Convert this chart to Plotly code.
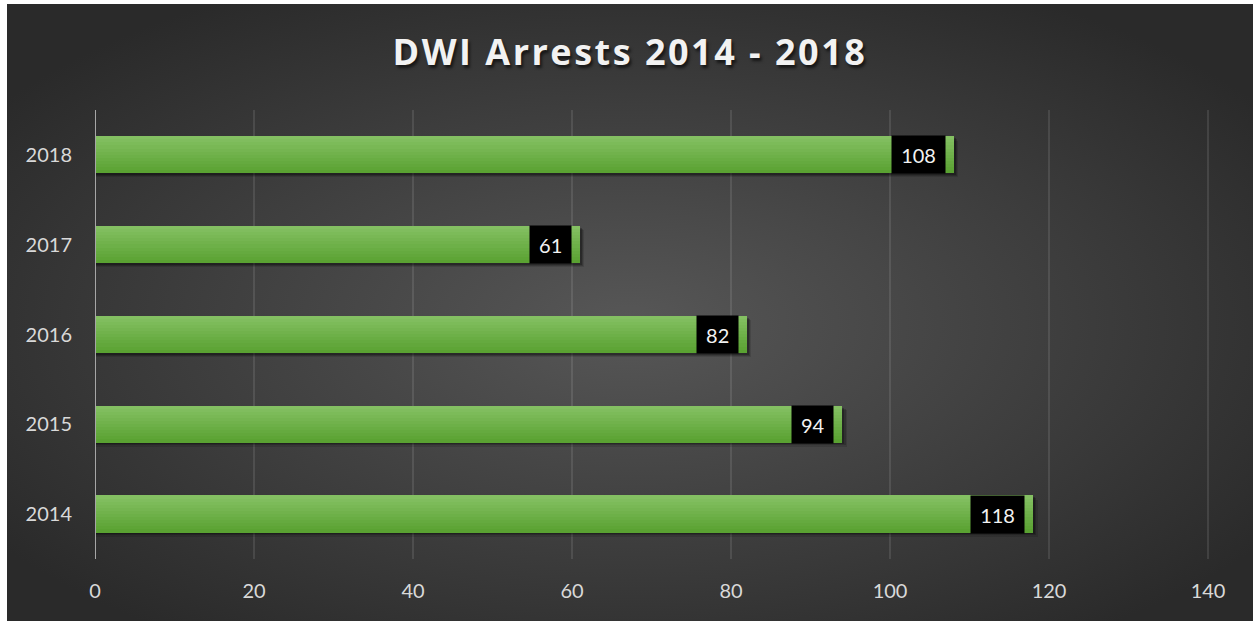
import plotly.graph_objects as go
import base64

years = ["2014", "2015", "2016", "2017", "2018"]
arrests = [118, 94, 82, 61, 108]
x_ticks = [0, 20, 40, 60, 80, 100, 120, 140]
x_range = [0, 141]

W, H = 1253, 621
ML, MR, MT, MB = 95, 37, 110, 62
PW, PH = W - ML - MR, H - MT - MB

ypos = list(range(len(years)))

fig = go.Figure()

BAR_W = 0.41
# soft shadow layers
for k, (dx, dy, a) in enumerate([(0.55, 0.045, 0.12), (0.4, 0.03, 0.18), (0.25, 0.018, 0.25)]):
    fig.add_trace(go.Bar(
        x=[v + dx for v in arrests], y=ypos, orientation="h",
        width=BAR_W, offset=-BAR_W / 2 - dy,
        marker=dict(color="rgba(0,0,0,%.2f)" % a, line=dict(width=0)),
        hoverinfo="skip", showlegend=False))

# gradient bands (top light -> bottom dark)
top_c = (0x84, 0xC0, 0x62)
bot_c = (0x5A, 0xA2, 0x32)
N = 12
bw = BAR_W / N
for i in range(N):
    t = i / (N - 1)
    c = tuple(round(top_c[k] + (bot_c[k] - top_c[k]) * t) for k in range(3))
    fig.add_trace(go.Bar(
        x=arrests, y=ypos, orientation="h",
        width=bw * 1.08, offset=BAR_W / 2 - (i + 1) * bw,
        marker=dict(color="rgb(%d,%d,%d)" % c, line=dict(width=0)),
        hoverinfo="skip", showlegend=False))

# value labels
for yp, v in zip(ypos, arrests):
    s = str(v)
    fig.add_annotation(
        x=v, y=yp, xref="x", yref="y", text=s, showarrow=False,
        xanchor="right", yanchor="middle", xshift=-8,
        width=18 + 11.7 * len(s), height=37, borderpad=0,
        bgcolor="#000000", align="center", valign="middle",
        font=dict(family="Lato, Open Sans, sans-serif", size=20, color="#f2f2f2"))

svg = ('<svg xmlns="http://www.w3.org/2000/svg" width="1246" height="617" '
       'viewBox="0 0 1246 617" preserveAspectRatio="none">'
       '<defs><radialGradient id="g" cx="0.5" cy="0.52" r="0.62">'
       '<stop offset="0" stop-color="#575757"/>'
       '<stop offset="1" stop-color="#2a2a2a"/>'
       '</radialGradient></defs>'
       '<rect width="1246" height="617" fill="url(#g)"/></svg>')
src = "data:image/svg+xml;base64," + base64.b64encode(svg.encode()).decode()

fig.add_layout_image(dict(
    source=src, xref="paper", yref="paper",
    x=(7 - ML) / PW, y=1 + (MT - 4) / PH,
    sizex=(W - 7) / PW, sizey=(H - 4) / PH,
    xanchor="left", yanchor="top", sizing="stretch", layer="below"))

fig.update_layout(
    width=W, height=H,
    margin=dict(l=ML, r=MR, t=MT, b=MB, pad=0),
    paper_bgcolor="#ffffff", plot_bgcolor="rgba(0,0,0,0)",
    barmode="overlay", bargap=0,
    title=dict(text='<span style="letter-spacing:2.5px">DWI Arrests 2014 - 2018</span>',
               x=(630 - ML) / PW, xref="paper", xanchor="center",
               y=1 - 52 / H, yanchor="middle",
               font=dict(family="Open Sans, sans-serif", size=36, color="#f2f2f2",
                         weight="bold", shadow="2px 3px 3px rgba(0,0,0,0.6)")),
    xaxis=dict(range=x_range, tickvals=x_ticks, showgrid=True,
               gridcolor="rgba(255,255,255,0.10)", gridwidth=2, zeroline=False,
               showline=False, ticks="", ticklabelstandoff=18,
               tickfont=dict(family="Lato, sans-serif", size=20, color="#d9d9d9"),
               fixedrange=True),
    yaxis=dict(range=[-0.5, len(years) - 0.5], tickvals=ypos, ticktext=years,
               showgrid=False, zeroline=False, showline=False, ticks="",
               ticklabelstandoff=22,
               tickfont=dict(family="Lato, sans-serif", size=20, color="#d9d9d9"),
               fixedrange=True),
    shapes=[dict(type="line", xref="x", yref="paper", x0=0, x1=0, y0=0, y1=1,
                 line=dict(color="#a6a6a6", width=2), layer="above")],
)

fig.write_html("out.html", config={"displayModeBar": False},
               post_script="document.body.style.margin='0';document.body.style.overflow='hidden';")
